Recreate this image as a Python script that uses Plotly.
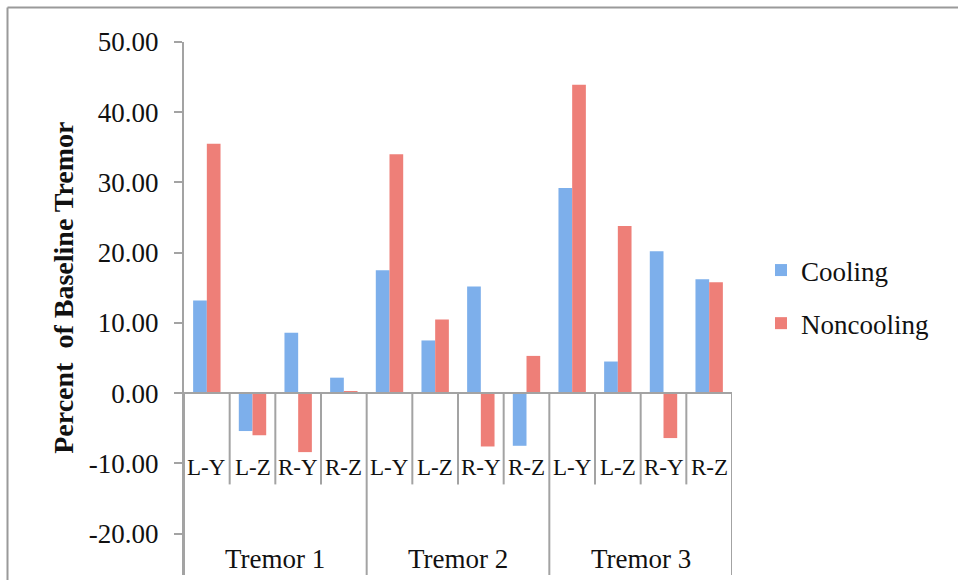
import plotly.graph_objects as go

# Data: percent of baseline tremor by tremor episode and axis
groups = ["Tremor 1", "Tremor 2", "Tremor 3"]
subcats = ["L-Y", "L-Z", "R-Y", "R-Z"]
cooling = [13.2, -5.4, 8.6, 2.2,
           17.5, 7.5, 15.2, -7.5,
           29.2, 4.5, 20.2, 16.2]
noncooling = [35.5, -6.0, -8.4, 0.3,
              34.0, 10.5, -7.6, 5.3,
              43.9, 23.8, -6.4, 15.8]
yticks = [-20, -10, 0, 10, 20, 30, 40, 50]

FONT = "Liberation Serif"
AXIS_GREY = "#a3a3a3"
TEXT = "#111111"
Y_MIN, Y_MAX = -25.9, 50

n_sub = len(subcats)
x_pos = list(range(len(groups) * n_sub))

fig = go.Figure()
fig.add_trace(go.Bar(x=x_pos, y=cooling, name="Cooling", legendgroup="c",
                     marker=dict(color="#7dafeb", line=dict(width=0))))
fig.add_trace(go.Bar(x=x_pos, y=noncooling, name="Noncooling", legendgroup="n",
                     marker=dict(color="#ee7f78", line=dict(width=0))))

shapes = []
annotations = []

# category axis line at zero
shapes.append(dict(type="line", xref="x", yref="y", x0=-0.5, x1=len(x_pos) - 0.5,
                   y0=0, y1=0, line=dict(color=AXIS_GREY, width=2), layer="above"))

# dividers between sub-categories and between groups
for i in range(len(x_pos) + 1):
    xb = i - 0.5
    is_group = (i % n_sub == 0)
    shapes.append(dict(type="line", xref="x", yref="y", x0=xb, x1=xb,
                       y0=0, y1=Y_MIN if is_group else -13.0,
                       line=dict(color=AXIS_GREY, width=2), layer="above"))

# sub-category labels
for i in x_pos:
    annotations.append(dict(x=i, y=-10.6, xref="x", yref="y", text=subcats[i % n_sub],
                            showarrow=False, font=dict(family=FONT, size=23, color=TEXT)))

# group labels
for g, name in enumerate(groups):
    annotations.append(dict(x=g * n_sub + (n_sub - 1) / 2, y=-23.6, xref="x", yref="y",
                            text=name, showarrow=False,
                            font=dict(family=FONT, size=27, color=TEXT)))

# outer chart frame
L, R, T, B = 184, 226, 42, 5
pw, ph = 958 - L - R, 580 - T - B
def px_x(p):
    return (p - L) / pw
def px_y(p):
    return (580 - B - p) / ph
shapes.append(dict(type="line", xref="paper", yref="paper",
                   x0=px_x(7.5), x1=px_x(970), y0=px_y(7.5), y1=px_y(7.5),
                   line=dict(color="#9a9a9a", width=2)))
shapes.append(dict(type="line", xref="paper", yref="paper",
                   x0=px_x(7.5), x1=px_x(7.5), y0=px_y(7.5), y1=px_y(600),
                   line=dict(color="#9a9a9a", width=2)))

# value-axis title, centred on the labelled span of the axis
annotations.append(dict(x=px_x(64), y=(yticks[0] + yticks[-1]) / 2, xref="paper", yref="y",
                        xanchor="center", yanchor="middle",
                        text="<b>Percent  of Baseline Tremor</b>", textangle=-90,
                        showarrow=False, font=dict(family=FONT, size=28, color=TEXT)))

fig.update_layout(
    width=958, height=580,
    margin=dict(l=L, r=R, t=T, b=B),
    paper_bgcolor="white", plot_bgcolor="white",
    barmode="group", bargap=0.4, bargroupgap=0,
    font=dict(family=FONT, size=27, color=TEXT),
    showlegend=True,
    legend=dict(x=px_x(761), y=px_y(297), xanchor="left", yanchor="middle",
                traceorder="grouped",
                font=dict(family=FONT, size=27, color=TEXT),
                itemwidth=30, tracegroupgap=15, bgcolor="rgba(0,0,0,0)"),
    xaxis=dict(range=[-0.5, len(x_pos) - 0.5], showticklabels=False, showgrid=False,
               zeroline=False, showline=False, ticks=""),
    yaxis=dict(range=[Y_MIN, Y_MAX], tickvals=yticks,
               ticktext=[f"{v:.2f}" for v in yticks],
               showgrid=False, zeroline=False, showline=True, linecolor=AXIS_GREY,
               linewidth=2, ticks="outside", ticklen=8, tickcolor=AXIS_GREY, tickwidth=2,
               ticklabelstandoff=10,
               tickfont=dict(family=FONT, size=27, color=TEXT)),
    shapes=shapes, annotations=annotations,
)

fig.write_html("out.html")
